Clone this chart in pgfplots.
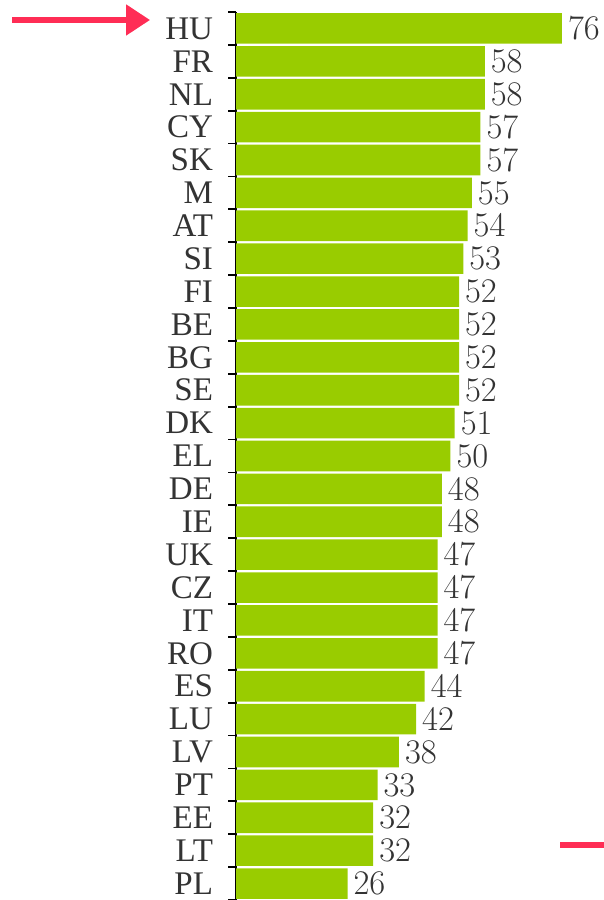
\documentclass[border=0pt]{standalone}
\usepackage{pgfplots}
\pgfplotsset{compat=1.18}
\usepackage{fontspec}
\setmainfont{Liberation Serif}
\usetikzlibrary{arrows.meta}
\definecolor{bargreen}{RGB}{153,204,0}
\definecolor{markred}{RGB}{255,45,85}

\pgfplotstableread{
idx val
0 76
1 58
2 58
3 57
4 57
5 55
6 54
7 53
8 52
9 52
10 52
11 52
12 51
13 50
14 48
15 48
16 47
17 47
18 47
19 47
20 44
21 42
22 38
23 33
24 32
25 32
26 26
}\scores

\begin{document}
\begin{tikzpicture}
\useasboundingbox (0pt,0pt) rectangle (302pt,450pt);
\begin{axis}[
  at={(118pt,0pt)}, anchor=south west,
  scale only axis, width=184pt, height=444pt,
  xbar, bar width=0.93,
  xmin=0, xmax=85.8,
  ymin=-0.5, ymax=26.5, y dir=reverse,
  axis y line*=left, axis x line=none,
  y axis line style={line width=0.9pt, black},
  ytick={0,...,26},
  yticklabels={HU,FR,NL,CY,SK,M,AT,SI,FI,BE,BG,SE,DK,EL,DE,IE,UK,CZ,IT,RO,ES,LU,LV,PT,EE,LT,PL},
  major tick length=0pt,
  minor ytick={-0.5,0.5,...,26.5},
  minor tick length=4pt,
  tick align=outside,
  minor tick style={line width=0.9pt, black},
  yticklabel style={font=\fontsize{16.5}{16.5}\selectfont, text=black!80, xshift=-8pt},
  nodes near coords,
  nodes near coords align={horizontal},
  every node near coord/.append style={font=\fontsize{16.5}{16.5}\selectfont, text=black!80, anchor=west, xshift=-0.5pt},
  clip=false,
]
\addplot[draw=none, fill=bargreen] table[x=val, y=idx] {\scores};
\end{axis}
% pointer to the top entry
\draw[markred, line width=2.6pt, -{Triangle[length=12pt, width=15pt]}] (6pt,440pt) -- (75pt,440pt);
% marker at the lower right
\draw[markred, line width=2.6pt] (280pt,27.5pt) -- (302pt,27.5pt);
\end{tikzpicture}
\end{document}
